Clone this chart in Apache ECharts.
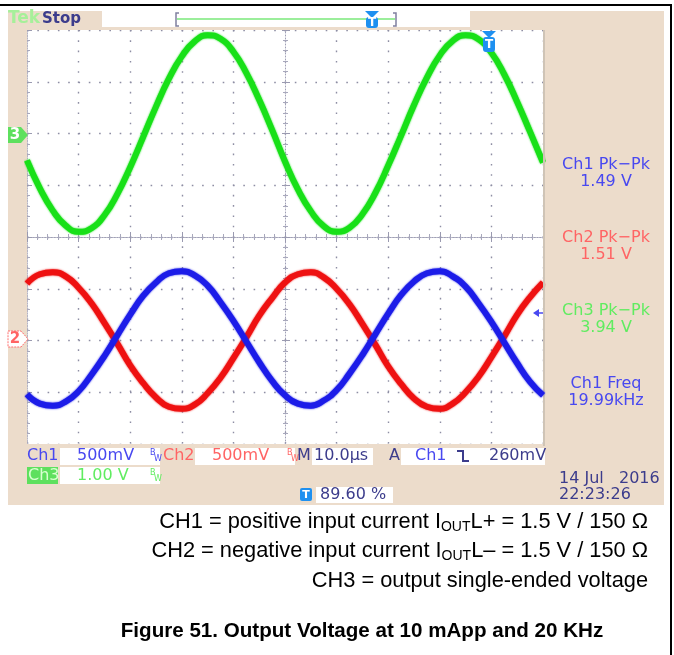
<!DOCTYPE html>
<html>
<head>
<meta charset="utf-8">
<title>Figure 51. Output Voltage at 10 mApp and 20 KHz</title>
<script src="https://cdn.jsdelivr.net/npm/echarts@6/dist/echarts.min.js"></script>
<style>
  html, body { margin: 0; padding: 0; background: #fff; }
  #scope { width: 674px; height: 655px; }
</style>
</head>
<body>
<div id="scope"></div>
<script>
// time base in µs, 10 µs/div over 10 divisions
var timeUs = [0, 2.5, 5, 7.5, 10, 12.5, 15, 17.5, 20, 22.5, 25, 27.5, 30, 32.5, 35, 37.5, 40, 42.5, 45, 47.5,
  50, 52.5, 55, 57.5, 60, 62.5, 65, 67.5, 70, 72.5, 75, 77.5, 80, 82.5, 85, 87.5, 90, 92.5, 95, 97.5, 100];
// CH1 positive input current (V), 500 mV/div
var ch1Volts = [-0.52, -0.61, -0.63, -0.59, -0.49, -0.33, -0.15, 0.05, 0.25, 0.43, 0.56, 0.65, 0.67, 0.63, 0.53, 0.37, 0.19, -0.01, -0.21, -0.39,
  -0.53, -0.61, -0.63, -0.58, -0.48, -0.32, -0.14, 0.06, 0.26, 0.44, 0.57, 0.65, 0.67, 0.62, 0.52, 0.36, 0.18, -0.02, -0.22, -0.40, -0.53];
// CH2 negative input current (V), 500 mV/div
var ch2Volts = [0.55, 0.64, 0.66, 0.62, 0.51, 0.36, 0.17, -0.03, -0.24, -0.41, -0.55, -0.64, -0.66, -0.62, -0.51, -0.36, -0.17, 0.03, 0.24, 0.41,
  0.56, 0.64, 0.66, 0.61, 0.50, 0.35, 0.16, -0.04, -0.25, -0.42, -0.56, -0.64, -0.66, -0.61, -0.50, -0.35, -0.16, 0.04, 0.25, 0.42, 0.56];
// CH3 output single-ended voltage (V), 1 V/div
var ch3Volts = [-0.52, -1.06, -1.49, -1.78, -1.90, -1.83, -1.58, -1.17, -0.65, -0.07, 0.52, 1.06, 1.49, 1.78, 1.90, 1.83, 1.58, 1.17, 0.65, 0.07,
  -0.54, -1.08, -1.50, -1.79, -1.90, -1.82, -1.56, -1.15, -0.62, -0.04, 0.55, 1.08, 1.51, 1.79, 1.90, 1.82, 1.56, 1.14, 0.61, 0.03, -0.56];

var measNames = ['Ch1 Pk\u2212Pk', 'Ch2 Pk\u2212Pk', 'Ch3 Pk\u2212Pk', 'Ch1 Freq'];
var measValues = ['1.49 V', '1.51 V', '3.94 V', '19.99kHz'];
var captionLines = [
  'CH1 = positive input current I{sub|OUT}L+ = 1.5 V / 150 \u03a9',
  'CH2 = negative input current I{sub|OUT}L\u2013 = 1.5 V / 150 \u03a9',
  'CH3 = output single-ended voltage'
];
var figureTitle = 'Figure 51. Output Voltage at 10 mApp and 20 KHz';

var BEIGE = '#ecdccb', NAVY = '#3c3c8c';
var C1 = '#1c1ce8', C2 = '#ee1111', C3 = '#18e018';
var T1 = '#4848f0', T2 = '#ff6464', T3 = '#60ec60';
var FONT = 'DejaVu Sans';

function pairs(ys) {
  return timeUs.map(function (t, i) { return [t, ys[i]]; });
}

function edgeAxis(pos, extra) {
  var a = {
    type: 'value', position: pos, min: 0, max: 100, interval: 10,
    axisLabel: { show: false },
    axisLine: { show: true, lineStyle: { color: '#b4b4c4', type: [1, 1.5], width: 1 } },
    axisTick: { show: true, inside: true, length: 5, lineStyle: { color: '#9a9ab0' } },
    minorTick: { show: true, splitNumber: 5, length: 3, lineStyle: { color: '#a8a8bc' } },
    splitLine: { show: false }
  };
  return Object.assign(a, extra || {});
}

var dotted = { color: '#8e8ea4', width: 1.4, type: [1.6, 8.7] };

var xAxes = [
  edgeAxis('bottom', { splitLine: { show: true, lineStyle: dotted } }),
  edgeAxis('top'),
  edgeAxis('bottom', { offset: -207, axisLine: { show: true, lineStyle: { color: '#a0a0b6', type: [1, 2] } } }),
  edgeAxis('bottom', { offset: -207, axisLine: { show: false }, axisTick: { show: true, inside: false, length: 3, lineStyle: { color: '#9a9ab0' } }, minorTick: { show: true, splitNumber: 5, length: 2, lineStyle: { color: '#a8a8bc' } } })
];
function yEdge(pos, extra) {
  var a = edgeAxis(pos, extra);
  a.min = -4; a.max = 4; a.interval = 1;
  return a;
}
var yAxes = [
  yEdge('left', { splitLine: { show: true, lineStyle: dotted } }),
  yEdge('right'),
  yEdge('left', { offset: -258, axisLine: { show: true, lineStyle: { color: '#a0a0b6', type: [1, 2] } } }),
  yEdge('left', { offset: -258, axisLine: { show: false }, axisTick: { show: true, inside: false, length: 3, lineStyle: { color: '#9a9ab0' } }, minorTick: { show: true, splitNumber: 5, length: 2, lineStyle: { color: '#a8a8bc' } } }),
  // channel scales: ground of CH1/CH2 two divisions above bottom, CH3 two below top
  { type: 'value', min: -1, max: 3, show: false },
  { type: 'value', min: -6, max: 2, show: false }
];

function trace(name, ys, color, yIdx, z) {
  return {
    name: name, type: 'line', data: pairs(ys), xAxisIndex: 0, yAxisIndex: yIdx,
    smooth: true, showSymbol: false, silent: true, z: z,
    lineStyle: { color: color, width: 6, shadowColor: color, shadowBlur: 2 }
  };
}

function txt(x, y, s, color, size, extra) {
  return Object.assign({
    type: 'text', x: x, y: y, z: 50,
    style: { text: s, fill: color, font: 'normal ' + (size || 15) + 'px "' + FONT + '"', textVerticalAlign: 'middle' }
  }, extra || {});
}
function box(x, y, w, h, fill) {
  return { type: 'rect', z: 20, shape: { x: x, y: y, width: w, height: h }, style: { fill: fill || '#fff' } };
}
function bw(x, y, color) {
  return [txt(x, y - 3, 'B', color, 8), txt(x + 4, y + 3, 'W', color, 8)];
}
function tMarker(cx, top, h) {
  return [
    { type: 'polygon', z: 60, shape: { points: [[cx - 7, top], [cx + 7, top], [cx, top + 7]] }, style: { fill: '#1e90f0' } },
    { type: 'rect', z: 60, shape: { x: cx - 6, y: top + 6, width: 12, height: h, r: 3 }, style: { fill: '#1e90f0' } },
    txt(cx, top + 6 + h / 2, 'T', '#fff', 11, { style: { text: 'T', fill: '#fff', font: 'bold 12px "' + FONT + '"', textAlign: 'center', textVerticalAlign: 'middle' }, z: 61 })
  ];
}
function beige(x, y, w, h) {
  return { type: 'rect', z: 1, silent: true, shape: { x: x, y: y, width: w, height: h }, style: { fill: BEIGE } };
}

var g = [];
// screen frame around the graticule
g.push(beige(8, 11, 656, 19));
g.push(beige(8, 30, 19, 414));
g.push(beige(8, 444, 656, 61));
g.push(beige(543, 30, 121, 414));
g.push({ type: 'rect', z: 5, shape: { x: 0, y: 4, width: 672, height: 2 }, style: { fill: '#000' } });
g.push({ type: 'rect', z: 5, shape: { x: 670, y: 4, width: 2, height: 651 }, style: { fill: '#000' } });
g.push({ type: 'rect', z: 5, shape: { x: 543, y: 30, width: 2, height: 416 }, style: { fill: '#cfc4b6' } });

// top status bar
g.push(txt(8, 19, 'Tek', '#a6f09a', 17, { style: { text: 'Tek', fill: '#a6f09a', font: 'bold 17px "' + FONT + '"', textVerticalAlign: 'middle' } }));
g.push(txt(42, 19, 'Stop', NAVY, 15, { style: { text: 'Stop', fill: NAVY, font: 'bold 15px "' + FONT + '"', textVerticalAlign: 'middle' } }));
g.push(box(102, 11, 368, 16));
g.push({ type: 'polyline', z: 30, shape: { points: [[179, 13], [176, 13], [176, 26], [179, 26]] }, style: { stroke: '#8080a0', lineWidth: 1.5 } });
g.push({ type: 'polyline', z: 30, shape: { points: [[393, 13], [396, 13], [396, 26], [393, 26]] }, style: { stroke: '#8080a0', lineWidth: 1.5 } });
g.push({ type: 'line', z: 30, shape: { x1: 177, y1: 19, x2: 395, y2: 19 }, style: { stroke: '#7ae87a', lineWidth: 1.5 } });
g = g.concat(tMarker(372, 11, 11));
g = g.concat(tMarker(489, 31, 15));

// channel ground markers on the left
g.push({ type: 'polygon', z: 60, shape: { points: [[8, 127], [21, 127], [28, 135], [21, 143], [8, 143]] }, style: { fill: '#5ee05e' } });
g.push(txt(15, 135, '3', '#fff', 15, { style: { text: '3', fill: '#fff', font: 'bold 15px "' + FONT + '"', textAlign: 'center', textVerticalAlign: 'middle' }, z: 61 }));
g.push({ type: 'polygon', z: 60, shape: { points: [[8, 331], [21, 331], [28, 339], [21, 347], [8, 347]] }, style: { fill: '#fff', stroke: '#ff7070', lineWidth: 1, lineDash: [2, 1] } });
g.push(txt(15, 339, '2', T2, 15, { style: { text: '2', fill: T2, font: 'bold 15px "' + FONT + '"', textAlign: 'center', textVerticalAlign: 'middle' }, z: 61 }));
// trigger level arrow (CH1, 260 mV)
g.push({ type: 'polygon', z: 60, shape: { points: [[533, 313], [539, 309], [539, 317]] }, style: { fill: T1 } });
g.push({ type: 'line', z: 60, shape: { x1: 538, y1: 313, x2: 543, y2: 313 }, style: { stroke: T1, lineWidth: 1.5 } });

// measurement readouts on the right
var measColors = [T1, T2, T3, T1];
var measY = [165, 238, 311, 384];
measNames.forEach(function (n, i) {
  g.push(txt(606, measY[i], n, measColors[i], 16, { style: { text: n, fill: measColors[i], font: '16px "' + FONT + '"', textAlign: 'center', textVerticalAlign: 'middle' } }));
  g.push(txt(606, measY[i] + 17, measValues[i], measColors[i], 16, { style: { text: measValues[i], fill: measColors[i], font: '16px "' + FONT + '"', textAlign: 'center', textVerticalAlign: 'middle' } }));
});

// bottom settings bar
g.push(txt(27, 456, 'Ch1', T1, 16));
g.push(box(60, 448, 100, 17)); g.push(txt(77, 456, '500mV', T1, 16));
g = g.concat(bw(150, 456, T1));
g.push(txt(163, 456, 'Ch2', T2, 16));
g.push(box(195, 448, 100, 17)); g.push(txt(212, 456, '500mV', T2, 16));
g = g.concat(bw(287, 456, T2));
g.push(txt(297, 456, 'M', NAVY, 16));
g.push(box(312, 448, 61, 17)); g.push(txt(314, 456, '10.0\u00b5s', NAVY, 16));
g.push(txt(389, 456, 'A', NAVY, 16));
g.push(box(401, 448, 144, 17)); g.push(txt(415, 456, 'Ch1', T1, 16));
g.push({ type: 'polyline', z: 40, shape: { points: [[457, 451], [463, 451], [463, 461], [469, 461]] }, style: { stroke: NAVY, lineWidth: 2 } });
g.push(txt(489, 456, '260mV', NAVY, 16));
g.push(box(27, 467, 31, 17, '#5ee05e')); g.push(txt(28, 476, 'Ch3', '#d8ffd0', 16));
g.push(box(60, 467, 100, 17)); g.push(txt(77, 476, '1.00 V', T3, 16));
g = g.concat(bw(150, 476, T3));
g.push(box(316, 487, 77, 16));
g.push({ type: 'rect', z: 40, shape: { x: 300, y: 488, width: 12, height: 13, r: 2 }, style: { fill: '#1e90f0' } });
g.push(txt(306, 495, 'T', '#fff', 11, { style: { text: 'T', fill: '#fff', font: 'bold 11px "' + FONT + '"', textAlign: 'center', textVerticalAlign: 'middle' }, z: 41 }));
g.push(txt(320, 495, '89.60 %', NAVY, 16));
g.push(txt(559, 479, '14 Jul   2016', NAVY, 16));
g.push(txt(559, 495, '22:23:26', NAVY, 16));

// figure caption
var capY = [522, 551, 581];
captionLines.forEach(function (line, i) {
  g.push({
    type: 'text', x: 648, y: capY[i], z: 50,
    style: {
      text: line, fill: '#000', font: '21.8px "Liberation Sans"', textAlign: 'right', textVerticalAlign: 'middle',
      rich: { sub: { fontSize: 14, fontFamily: 'Liberation Sans', fill: '#000', padding: [11, 0, 0, 0] } }
    }
  });
});
g.push({
  type: 'text', x: 362, y: 631, z: 50,
  style: { text: figureTitle, fill: '#000', font: 'bold 20.6px "Liberation Sans"', textAlign: 'center', textVerticalAlign: 'middle' }
});

var chart = echarts.init(document.getElementById('scope'));
chart.setOption({
  animation: false,
  backgroundColor: '#fff',
  grid: { left: 27, top: 30, width: 516, height: 414, show: false },
  xAxis: xAxes,
  yAxis: yAxes,
  series: [
    trace('CH3', ch3Volts, C3, 5, 3),
    trace('CH2', ch2Volts, C2, 4, 4),
    trace('CH1', ch1Volts, C1, 4, 5)
  ],
  graphic: { elements: g }
});
window.addEventListener('resize', function () { chart.resize(); });
</script>
</body>
</html>
